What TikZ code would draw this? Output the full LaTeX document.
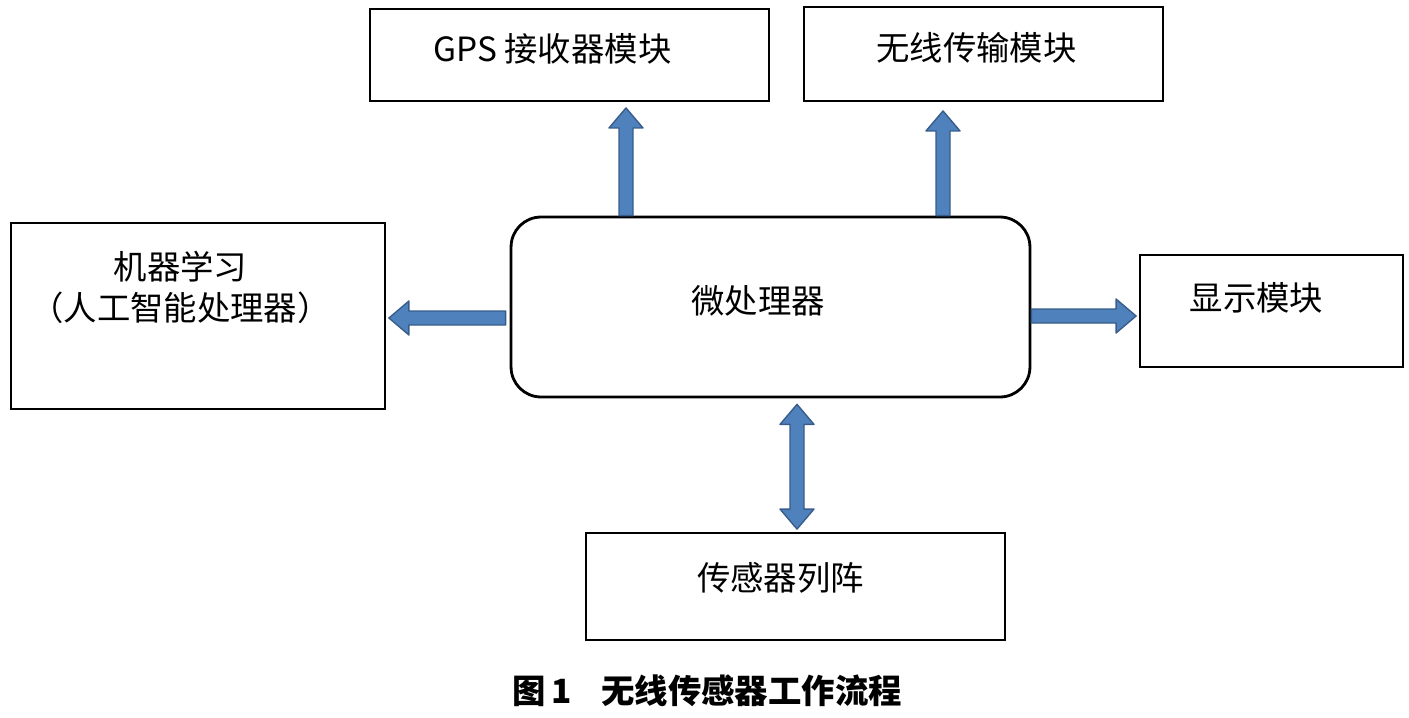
\documentclass[tikz,border=0pt]{standalone}
\usepackage{fontspec}
\setmainfont{Noto Sans CJK SC}
\usetikzlibrary{calc}

\definecolor{arrowblue}{RGB}{79,129,189}
\definecolor{arrowline}{RGB}{56,93,138}

\tikzset{
  box/.style={draw, line width=1.1pt, align=center, inner sep=0pt,
    font=\fontsize{19pt}{23pt}\selectfont},
  procbox/.style={box, rounded corners=0.6cm, line width=1.6pt},
  arrowfill/.style={fill=arrowblue, draw=arrowline, line width=0.8pt, line join=round},
}

% block arrow from #1 to tip #2
\newcommand\blockarrow[2]{%
  \path ($(#2)!0.4cm!(#1)$) coordinate (ba-c);
  \filldraw[arrowfill] ($(#1)!0.14cm!90:(#2)$) -- ($(ba-c)!0.14cm!90:(#2)$)
    -- ($(ba-c)!0.34cm!90:(#2)$) -- (#2) -- ($(ba-c)!0.34cm!-90:(#2)$)
    -- ($(ba-c)!0.14cm!-90:(#2)$) -- ($(#1)!0.14cm!-90:(#2)$) -- cycle;}
% block arrow with tips at both ends
\newcommand\dblockarrow[2]{%
  \path ($(#2)!0.4cm!(#1)$) coordinate (ba-c) ($(#1)!0.4cm!(#2)$) coordinate (ba-d);
  \filldraw[arrowfill] (#1) -- ($(ba-d)!0.34cm!90:(#2)$) -- ($(ba-d)!0.14cm!90:(#2)$)
    -- ($(ba-c)!0.14cm!90:(#2)$) -- ($(ba-c)!0.34cm!90:(#2)$) -- (#2)
    -- ($(ba-c)!0.34cm!-90:(#2)$) -- ($(ba-c)!0.14cm!-90:(#2)$)
    -- ($(ba-d)!0.14cm!-90:(#2)$) -- ($(ba-d)!0.34cm!-90:(#2)$) -- cycle;}

\begin{document}
\begin{tikzpicture}[x=0.02cm, y=-0.02cm]
  \useasboundingbox (0,0) rectangle (1409,717);

  % boxes
  \node (micro) at (770.5,307) [procbox, minimum width=10.38cm, minimum height=3.6cm] {\hspace*{-0.5cm}微处理器\rule[-0.3cm]{0pt}{0pt}};
  \node (gps) at (569.5,55) [box, minimum width=7.98cm, minimum height=1.84cm] {\hspace*{-0.68cm}GPS 接收器模块\rule[-0.3cm]{0pt}{0pt}};
  \node (wireless) at (983.5,54) [box, minimum width=7.18cm, minimum height=1.88cm] {\hspace*{-0.28cm}无线传输模块\rule[-0.3cm]{0pt}{0pt}};
  \node (ml) at (198,316) [box, minimum width=7.48cm, minimum height=3.72cm] {\hspace*{-0.7cm}机器学习\\\hspace*{-0.7cm}（人工智能处理器）\rule[-1.2cm]{0pt}{0pt}};
  \node (display) at (1271.5,311) [box, minimum width=5.26cm, minimum height=2.24cm] {\hspace*{-0.6cm}显示模块\rule[-0.6cm]{0pt}{0pt}};
  \node (sensor) at (795.5,586.5) [box, minimum width=8.38cm, minimum height=2.14cm] {\hspace*{-0.6cm}传感器列阵\rule[-0.4cm]{0pt}{0pt}};

  \node (cap) at (707,691) [font=\fontsize{19pt}{23pt}\selectfont\bfseries] {图\,1\hspace{0.6cm}无线传感器工作流程};

  % arrow ends
  \coordinate (gpsfoot) at (micro.north -| 626,0);
  \coordinate (gpstip) at ($(gps.south -| 626,0)+(0,6)$);
  \coordinate (wlfoot) at (micro.north -| 943,0);
  \coordinate (wltip) at ($(wireless.south -| 943,0)+(0,9)$);
  \coordinate (mlfoot) at ($(micro.west |- 0,318)+(-4,0)$);
  \coordinate (mltip) at ($(ml.east |- 0,318)+(3,0)$);
  \coordinate (dispfoot) at (micro.east |- 0,316);
  \coordinate (disptip) at ($(display.west |- 0,316)+(-3,0)$);
  \coordinate (sentop) at ($(micro.south -| 797,0)+(0,6)$);
  \coordinate (senbot) at ($(sensor.north -| 797,0)+(0,-3)$);

  % arrows
  \blockarrow{gpsfoot}{gpstip}
  \blockarrow{wlfoot}{wltip}
  \blockarrow{mlfoot}{mltip}
  \blockarrow{dispfoot}{disptip}
  \dblockarrow{sentop}{senbot}
\end{tikzpicture}
\end{document}
